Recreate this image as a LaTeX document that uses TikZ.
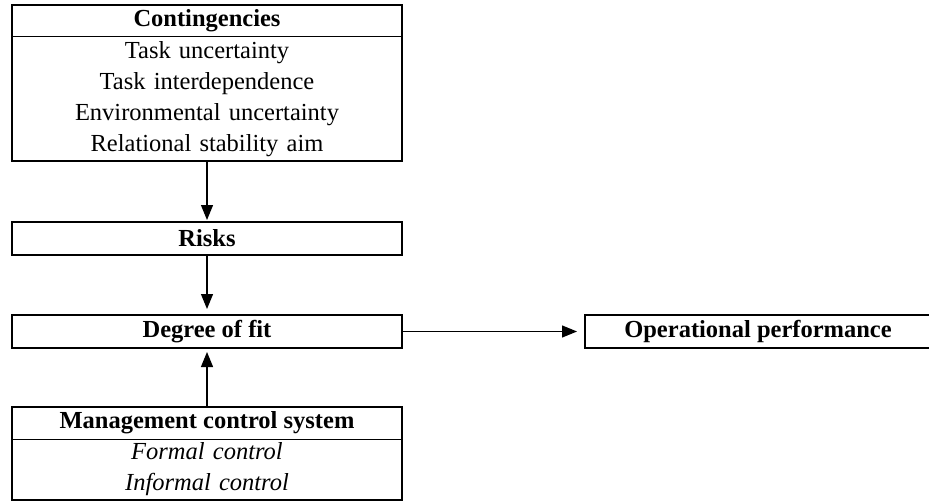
\documentclass[tikz,border=0pt]{standalone}
\usepackage{fontspec}
\setmainfont{Liberation Serif}
\usepackage{tikz}
\usetikzlibrary{arrows.meta, positioning, fit}
\definecolor{mydark}{RGB}{0,0,0}
\newcommand{\boxfont}{\fontsize{12.25}{15.5}\selectfont}
\tikzset{
  boxhead/.style={rectangle, minimum width=195pt, minimum height=16pt,
    inner sep=0pt, outer sep=0pt, font=\boxfont\bfseries},
  boxbody/.style={rectangle, text width=195pt, align=center,
    inner sep=0pt, outer sep=0pt, font=\boxfont},
  boxframe/.style={rectangle, draw=mydark, line width=1.3pt,
    inner sep=0pt, outer sep=0pt},
  block/.style={rectangle, draw=mydark, line width=1.3pt,
    minimum width=195pt, minimum height=16.5pt,
    inner sep=0pt, outer sep=0pt, font=\boxfont\bfseries},
  arrow/.style={-{Triangle[length=7.5pt,width=6pt]}, line width=0.6pt, color=mydark},
  sepline/.style={line width=0.5pt, color=mydark}
}

\begin{document}
\begin{tikzpicture}[x=0.5pt, y=-0.5pt]
\useasboundingbox (0,0) rectangle (929,502);
% Contingencies
\node[boxhead] (conthead) at (207,21) {Contingencies};
\node[boxbody, minimum height=62pt, below=0pt of conthead] (contbody)
  {Task uncertainty\\Task interdependence\\Environmental uncertainty\\Relational stability aim};
\node[boxframe, fit=(conthead)(contbody)] (cont) {};
\draw[sepline] (conthead.south west) -- (conthead.south east);
% Risks and fit
\node[block] (risks) at (207,238.5) {Risks};
\node[block] (degfit) at (207,331.5) {Degree of fit};
\node[block, minimum width=173pt, anchor=west] (perf) at (585,331.5) {Operational performance};
% Management control system
\node[boxhead] (mcshead) at (207,423) {Management control system};
\node[boxbody, minimum height=30.5pt, below=0pt of mcshead, font=\boxfont\itshape] (mcsbody)
  {Formal control\\Informal control};
\node[boxframe, fit=(mcshead)(mcsbody)] (mcs) {};
\draw[sepline] (mcshead.south west) -- (mcshead.south east);
% arrows
\draw[arrow, shorten >=1pt] (cont) -- (risks);
\draw[arrow, shorten >=3pt] (risks) -- (degfit);
\draw[arrow, shorten >=2pt] (mcs) -- (degfit);
\draw[arrow, shorten >=4pt] (degfit) -- (perf);
\end{tikzpicture}
\end{document}
